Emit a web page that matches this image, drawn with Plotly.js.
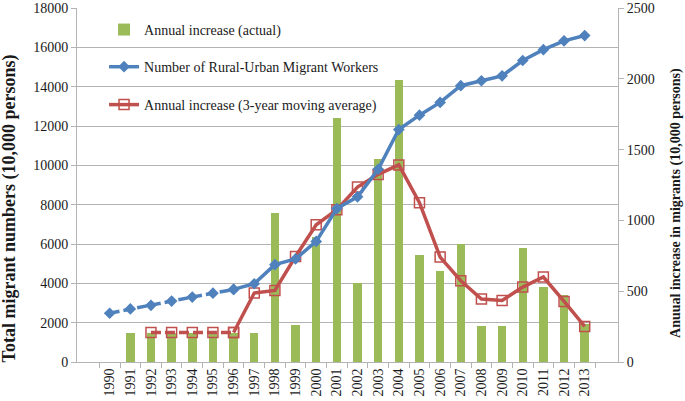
<!DOCTYPE html>
<html>
<head>
<meta charset="utf-8">
<script src="https://cdn.plot.ly/plotly-3.0.1.min.js"></script>
<style>
html,body{margin:0;padding:0;background:#fff;}
#chart{width:685px;height:401px;}
#chart .xtick text, #chart .ytick text, #chart .y2tick text {font-family:'Liberation Serif','Times New Roman',serif !important;}
</style>
</head>
<body>
<div id="chart"></div>
<script>
// ---- data ----
var years = ['1990','1991','1992','1993','1994','1995','1996','1997','1998','1999','2000','2001',
             '2002','2003','2004','2005','2006','2007','2008','2009','2010','2011','2012','2013'];
// Number of rural-urban migrant workers (10,000 persons), left axis
var totalWorkers = [2480, 2700, 2880, 3100, 3300, 3500, 3690, 3980, 4950, 5240, 6130, 7800,
                    8400, 9800, 11820, 12550, 13200, 14050, 14300, 14550, 15330, 15880, 16330, 16600];
// Annual increase (actual), right axis
var annualIncrease = [null, 208, 208, 208, 208, 208, 208, 208, 1050, 263, 886, 1720,
                      557, 1433, 1990, 757, 640, 833, 251, 251, 804, 529, 475, 265];
// Annual increase (3-year moving average), right axis
var movingAvg = [null, null, 208, 208, 208, 208, 208, 487, 505, 745, 969, 1075,
                 1235, 1325, 1392, 1125, 741, 574, 445, 435, 529, 600, 428, 251];
// last year of the estimated (dashed) part
var dashedEnd = years.indexOf('1996');

var serif = 'Liberation Serif';
var green = '#9BBB59', blue = '#4F81BD', red = '#C0504D';
var grid = '#B3B3B3';
var txt = '#1a1a1a';
var tickFont = {family:serif, size:14, color:txt};

var traces = [
  {type:'bar', name:'Annual increase (actual)', x:years, y:annualIncrease,
   marker:{color:green}, width:0.41, yaxis:'y', legend:'legend'},
  {type:'scatter', mode:'lines+markers', x:years.slice(2, dashedEnd+1), y:movingAvg.slice(2, dashedEnd+1),
   line:{color:red, width:3.5, dash:'10px,4px'}, marker:{symbol:'square-open', size:10, color:red, line:{width:1.5}},
   yaxis:'y', showlegend:false},
  {type:'scatter', mode:'lines+markers', name:'Annual increase (3-year moving average)',
   x:years.slice(dashedEnd), y:movingAvg.slice(dashedEnd),
   line:{color:red, width:3.5}, marker:{symbol:'square-open', size:10, color:red, line:{width:1.5}},
   yaxis:'y', legend:'legend3'},
  {type:'scatter', mode:'lines+markers', x:years.slice(0, dashedEnd+1), y:totalWorkers.slice(0, dashedEnd+1),
   line:{color:blue, width:3.5, dash:'10px,4px'}, marker:{symbol:'diamond', size:9, color:blue},
   yaxis:'y2', showlegend:false},
  {type:'scatter', mode:'lines+markers', name:'Number of Rural-Urban Migrant Workers',
   x:years.slice(dashedEnd), y:totalWorkers.slice(dashedEnd),
   line:{color:blue, width:3.5}, marker:{symbol:'diamond', size:9, color:blue},
   yaxis:'y2', legend:'legend2'}
];

var legendBase = {x:0.05, xanchor:'left', yanchor:'middle', bgcolor:'rgba(0,0,0,0)', borderwidth:0,
                  itemwidth:30, font:{family:serif, size:14, color:txt}};

var layout = {
  width:685, height:401,
  margin:{l:77, r:67, t:8, b:39, pad:0},
  paper_bgcolor:'#fff', plot_bgcolor:'#fff',
  font:{family:serif, size:14, color:txt},
  bargap:0,
  xaxis:{type:'category', tickangle:-90, tickson:'boundaries', ticks:'outside', ticklen:5,
         tickcolor:grid, showline:true, linecolor:grid, linewidth:1, showgrid:false,
         tickfont:tickFont},
  // right axis (annual increase) - primary so bars sit behind lines
  yaxis:{side:'right', range:[0,2500], dtick:500, tickformat:'d', showgrid:false, zeroline:false,
         showline:true, linecolor:grid, ticks:'outside', ticklen:5, tickcolor:grid,
         tickfont:tickFont},
  // left axis (total numbers)
  yaxis2:{side:'left', overlaying:'y', range:[0,18000], dtick:2000, tickformat:'d', showgrid:true, gridcolor:grid,
          gridwidth:1, zeroline:false, showline:true, linecolor:grid, ticks:'outside', ticklen:5,
          tickcolor:grid, tickfont:tickFont},
  legend:Object.assign({}, legendBase, {y:0.938}),
  legend2:Object.assign({}, legendBase, {y:0.833}),
  legend3:Object.assign({}, legendBase, {y:0.726}),
  annotations:[
    {text:'<b>Total migrant numbers (10,000 persons)</b>', textangle:-90, showarrow:false,
     xref:'paper', yref:'paper', x:-0.125, xanchor:'center', y:0.435, yanchor:'middle',
     font:{family:serif, size:18, color:txt}},
    {text:'<b>Anuual increase in migrants (10,000 persons)</b>', textangle:-90, showarrow:false,
     xref:'paper', yref:'paper', x:1.107, xanchor:'center', y:0.449, yanchor:'middle',
     font:{family:serif, size:14, color:txt}}
  ]
};

Plotly.newPlot('chart', traces, layout, {displayModeBar:false, staticPlot:true});
</script>
</body>
</html>
